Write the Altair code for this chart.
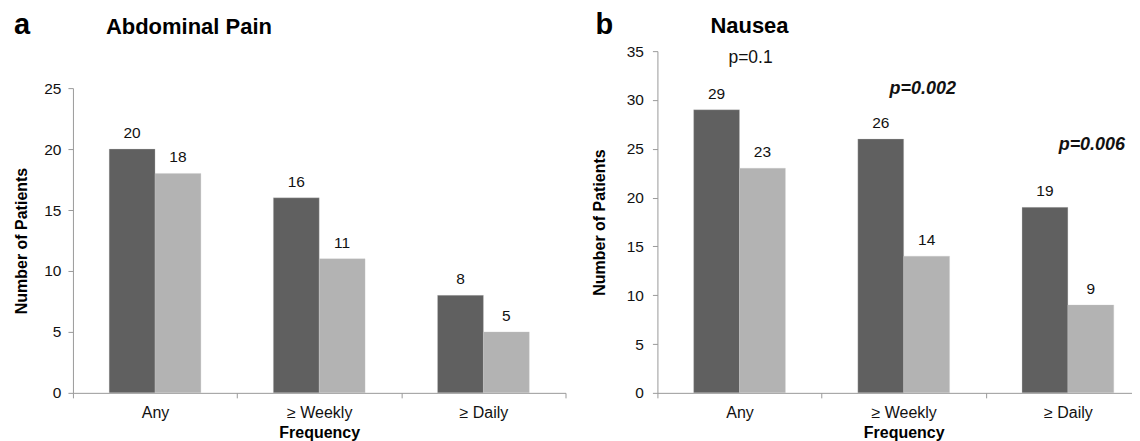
import altair as alt
import pandas as pd

categories = ["Any", "≥ Weekly", "≥ Daily"]
groups = ["Group 1", "Group 2"]

pain_g1 = [20, 16, 8]
pain_g2 = [18, 11, 5]

nausea_g1 = [29, 26, 19]
nausea_g2 = [23, 14, 9]

p_texts = ["p=0.1", "p=0.002", "p=0.006"]
p_bold = [False, True, True]
p_y = [33.8, 30.6, 24.9]
p_dx = [11, 19, 24]

FONT = "Liberation Sans"
DARK = "#606060"
LIGHT = "#b3b3b3"
AXIS_COLOR = "#9a9a9a"
PLOT_H = 342


def make_df(g1, g2):
    rows = []
    for c, a, b in zip(categories, g1, g2):
        rows.append({"cat": c, "grp": groups[0], "val": a})
        rows.append({"cat": c, "grp": groups[1], "val": b})
    return pd.DataFrame(rows)


def panel(df, ymax, width, y_top, letter, title, letter_xy, title_xy,
          label_pad, title_pad, pvals=None):
    x_enc = alt.X(
        "cat:N", sort=categories,
        scale=alt.Scale(paddingInner=0, paddingOuter=0),
        axis=alt.Axis(title="Frequency", labelAngle=0, tickBand="extent",
                      tickSize=5, labelPadding=7, titlePadding=4,
                      labelFontSize=16, titleFontSize=16, titleFontWeight="bold",
                      domainColor=AXIS_COLOR, tickColor=AXIS_COLOR,
                      labelColor="#111", titleColor="#000", labelFont=FONT,
                      titleFont=FONT, grid=False),
    )
    xo = alt.XOffset("grp:N", sort=groups,
                     scale=alt.Scale(paddingInner=0, paddingOuter=0.79))
    y_enc = alt.Y(
        "val:Q",
        scale=alt.Scale(domain=[0, ymax], nice=False, range=[PLOT_H, y_top]),
        axis=alt.Axis(title="Number of Patients", values=list(range(0, ymax + 1, 5)),
                      tickSize=5, labelPadding=label_pad, titlePadding=title_pad,
                      labelFontSize=15.5, titleFontSize=16, titleFontWeight="bold",
                      domainColor=AXIS_COLOR, tickColor=AXIS_COLOR,
                      labelColor="#111", titleColor="#000", labelFont=FONT,
                      titleFont=FONT, grid=False),
    )
    base = alt.Chart(df)
    bars = base.mark_bar(stroke="#c8c8c8", strokeWidth=0.5, strokeOpacity=0.6).encode(
        x=x_enc, xOffset=xo, y=y_enc,
        color=alt.Color("grp:N", sort=groups,
                        scale=alt.Scale(domain=groups, range=[DARK, LIGHT]),
                        legend=None),
    )
    vals = base.mark_text(baseline="alphabetic", dy=-11, fontSize=15.5,
                          font=FONT, color="#111").encode(
        x=alt.X("cat:N", sort=categories), xOffset=xo, y="val:Q", text="val:Q"
    )
    letter_df = pd.DataFrame({"t": [letter]})
    lt = alt.Chart(letter_df).mark_text(
        align="left", baseline="alphabetic", fontSize=29, fontWeight="bold",
        font=FONT, color="#000").encode(
        text="t:N", x=alt.value(letter_xy[0]), y=alt.value(letter_xy[1]))
    title_df = pd.DataFrame({"t": [title]})
    tt = alt.Chart(title_df).mark_text(
        align="left", baseline="alphabetic", fontSize=22, fontWeight="bold",
        font=FONT, color="#000").encode(
        text="t:N", x=alt.value(title_xy[0]), y=alt.value(title_xy[1]))
    layers = [bars, vals, lt, tt]
    if pvals:
        for txt, bold, yv, dx, c in zip(p_texts, p_bold, p_y, p_dx, categories):
            pdf = pd.DataFrame({"cat": [c], "py": [yv], "t": [txt]})
            props = dict(baseline="alphabetic", dx=dx, font=FONT, color="#111")
            if bold:
                props.update(fontSize=18, fontWeight="bold", fontStyle="italic")
            else:
                props.update(fontSize=17.5)
            layers.append(alt.Chart(pdf).mark_text(**props).encode(
                x=alt.X("cat:N", sort=categories), y="py:Q", text="t:N"))
    return alt.layer(*layers).properties(width=width, height=PLOT_H)


left = panel(make_df(pain_g1, pain_g2), 25, 493, 37, "a", "Abdominal Pain",
             (-59, -17), (33, -17), 7, 14)
right = panel(make_df(nausea_g1, nausea_g2), 35, 493, 0, "b", "Nausea",
              (-62, -17), (53, -18), 9, 19, pvals=True)

chart = alt.hconcat(left, right, spacing=24).configure_view(stroke=None).properties(
    padding={"left": 5, "top": 3, "right": -19, "bottom": 0}
)

chart.save("out.html", embed_options={"renderer": "svg", "actions": False})
